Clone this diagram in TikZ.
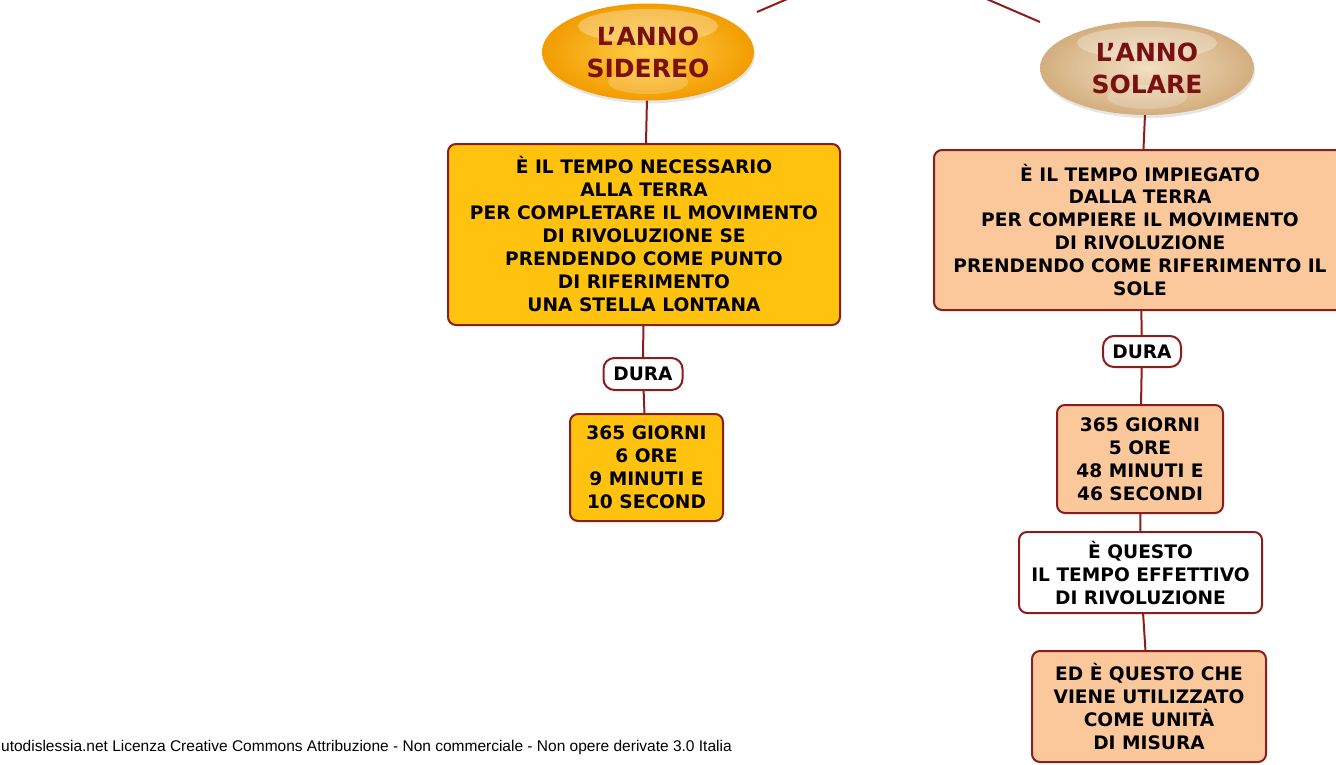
\documentclass[tikz,border=0pt]{standalone}
\usepackage{fontspec}
\setmainfont{DejaVu Sans}
\newfontfamily\footfont{Liberation Sans}
\usepackage{xcolor}
\usetikzlibrary{positioning}
\usetikzlibrary{shapes.geometric}
\usetikzlibrary{shadows}
\usetikzlibrary{calc}

\definecolor{linkred}{HTML}{8B1D1D}
\definecolor{titlered}{HTML}{7A1010}
\definecolor{sidgold}{HTML}{FFC20E}
\definecolor{solpeach}{HTML}{FBC89C}
\definecolor{sidin}{HTML}{FFCF4A}
\definecolor{sidout}{HTML}{F29C00}
\definecolor{solin}{HTML}{F3DFC2}
\definecolor{solout}{HTML}{D3AE7E}

\tikzset{
  link/.style     = {draw=linkred, line width=2pt},
  concept/.style  = {draw=linkred, line width=2pt, rounded corners=8pt, align=center,
                     inner sep=0pt, font=\bfseries\fontsize{18.6}{23}\selectfont},
  goldbox/.style  = {concept, fill=sidgold},
  peachbox/.style = {concept, fill=solpeach},
  plainbox/.style = {concept, fill=white},
  linkword/.style = {concept, fill=white, rounded corners=11pt},
  bubble/.style   = {ellipse, inner sep=0pt, align=center, text=titlered,
                     font=\bfseries\fontsize{25}{32}\selectfont,
                     drop shadow={opacity=0.2, shadow xshift=1pt, shadow yshift=-3pt}},
}

\begin{document}
\begin{tikzpicture}[x=1pt,y=-1pt]

  % page frame (pixels of the reference)
  \clip (0,0) rectangle (1336,764);
  \fill[white] (0,0) rectangle (1336,764);

  % the two kinds of year
  \node[bubble, minimum width=212pt, minimum height=97pt, inner color=sidin, outer color=sidout]
        (sid) at (648,52) {};
  \node[bubble, minimum width=214pt, minimum height=94pt, inner color=solin, outer color=solout]
        (sol) at (1147,68) {};

  % gloss on the bubbles
  \fill[white, opacity=0.3] ($(sid.center)+(0,-26)$) ellipse [x radius=70pt, y radius=17pt];
  \fill[white, opacity=0.2] ($(sid.center)+(0,30)$) ellipse [x radius=40pt, y radius=12pt];
  \fill[white, opacity=0.3] ($(sol.center)+(0,-25)$) ellipse [x radius=70pt, y radius=16pt];
  \fill[white, opacity=0.2] ($(sol.center)+(0,29)$) ellipse [x radius=40pt, y radius=12pt];

  \node[text=titlered, align=center, font=\bfseries\fontsize{25}{32}\selectfont] (sidtxt)
        at (sid.center) {L’ANNO\\SIDEREO};
  \node[text=titlered, align=center, font=\bfseries\fontsize{25}{32}\selectfont] (soltxt)
        at (sol.center) {L’ANNO\\SOLARE};

  % links coming from above the page
  \coordinate (sidup)  at (792,-3);
  \coordinate (sidend) at (757,12);
  \coordinate (solup)  at (982,-3);
  \coordinate (solend) at (1040,22);
  \draw[link] (sidup) -- (sidend);
  \draw[link] (solup) -- (solend);

  % sidereal branch
  \node[goldbox, minimum width=392pt, minimum height=181pt] (defsid) at (644,234.5)
    {È IL TEMPO NECESSARIO\\ALLA TERRA\\PER COMPLETARE IL MOVIMENTO\\DI RIVOLUZIONE SE\\
     PRENDENDO COME PUNTO\\DI RIFERIMENTO\\UNA STELLA LONTANA};
  \node[linkword, minimum width=79pt, minimum height=32pt] (dursid) at (643,374) {DURA};
  \node[goldbox, minimum width=153pt, minimum height=107pt] (timesid) at (646.5,467.5)
    {365 GIORNI\\6 ORE\\9 MINUTI E\\10 SECOND};

  % solar branch
  \node[peachbox, minimum width=412pt, minimum height=160pt] (defsol) at (1140,230)
    {È IL TEMPO IMPIEGATO\\DALLA TERRA\\PER COMPIERE IL MOVIMENTO\\DI RIVOLUZIONE\\
     PRENDENDO COME RIFERIMENTO IL\\SOLE};
  \node[linkword, minimum width=78pt, minimum height=31pt] (dursol) at (1142,351.5) {DURA};
  \node[peachbox, minimum width=166pt, minimum height=108pt] (timesol) at (1140,459)
    {365 GIORNI\\5 ORE\\48 MINUTI E\\46 SECONDI};
  \node[plainbox, minimum width=243pt, minimum height=81pt] (effsol) at (1140.5,572.5)
    {È QUESTO\\IL TEMPO EFFETTIVO\\DI RIVOLUZIONE};
  \node[peachbox, minimum width=234pt, minimum height=111pt] (unitsol) at (1149,706.5)
    {ED È QUESTO CHE\\VIENE UTILIZZATO\\COME UNITÀ\\DI MISURA};

  % connectors
  \draw[link] (sid) -- (defsid);
  \draw[link] (defsid) -- (dursid);
  \draw[link] (dursid) -- (timesid);
  \draw[link] (sol) -- (defsol);
  \draw[link] (defsol) -- (dursol);
  \draw[link] (dursol) -- (timesol);
  \draw[link] (timesol) -- (effsol);
  \draw[link] (effsol) -- (unitsol);

  % licence line
  \node[anchor=base west, inner sep=0pt, font=\footfont\fontsize{15.5}{17}\selectfont] (lic) at (1,751)
    {utodislessia.net Licenza Creative Commons Attribuzione - Non commerciale - Non opere derivate 3.0 Italia};

\end{tikzpicture}
\end{document}
